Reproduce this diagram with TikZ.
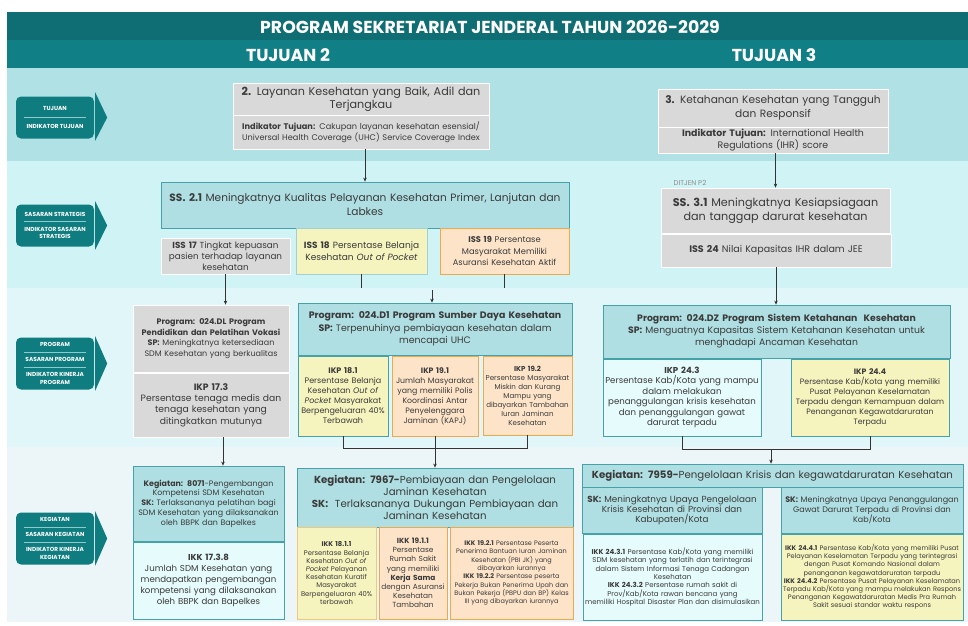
\documentclass[tikz,border=0pt]{standalone}
\usepackage{fontspec}
\setmainfont{Poppins}
\usetikzlibrary{arrows.meta}

\definecolor{bandA}{HTML}{0E6E73}
\definecolor{bandB}{HTML}{117F86}
\definecolor{rowA}{HTML}{B0E1E5}
\definecolor{rowB}{HTML}{D0F3F5}
\definecolor{rowC}{HTML}{E1F6F8}
\definecolor{rowD}{HTML}{ECF5F7}
\definecolor{sidecol}{HTML}{0F7C80}
\definecolor{sideln}{HTML}{8CCACD}
\definecolor{greyfill}{HTML}{D9D9D9}
\definecolor{tealfill}{HTML}{AFDFE2}
\definecolor{tealline}{HTML}{45A2A8}
\definecolor{yelfill}{HTML}{F6F4BE}
\definecolor{peachfill}{HTML}{FDE4C9}
\definecolor{orangeline}{HTML}{EBAA4E}
\definecolor{cyanfill}{HTML}{E6FBFC}
\definecolor{txt}{HTML}{3A3A3A}

\newcommand{\sepline}{\textcolor{sideln}{\rule[2pt]{62pt}{0.6pt}}}

\tikzset{
  box/.style={rectangle, draw, align=center, inner xsep=1pt, inner ysep=1pt, text=txt, line width=0.8pt},
  greybox/.style={box, fill=greyfill, draw=white},
  tealbox/.style={box, fill=tealfill, draw=tealline},
  yelbox/.style={box, fill=yelfill, draw=tealline},
  peachbox/.style={box, fill=peachfill, draw=orangeline},
  cyanbox/.style={box, fill=cyanfill, draw=tealline},
  sidelbl/.style={rectangle, rounded corners=5pt, fill=sidecol, text=white, align=center,
    font=\bfseries\fontsize{5.8}{7.5}\selectfont, minimum width=78pt, inner sep=1pt},
  arr/.style={-{Stealth[length=4pt,width=3.5pt]}, line width=0.6pt, draw=black!80},
  ln/.style={line width=0.6pt, draw=black!80},
}

\begin{document}
\begin{tikzpicture}[x=1pt,y=-1pt]
\useasboundingbox (0,0) rectangle (968,625);
\fill[bandA] (7,12) rectangle (968,40);
\fill[bandB] (7,40) rectangle (968,68);
\fill[rowA] (7,68) rectangle (968,161);
\fill[rowB] (7,161) rectangle (968,288);
\fill[rowC] (7,288) rectangle (968,447);
\fill[rowD] (7,447) rectangle (968,622);

\begin{scope}[every node/.style={text=white, font=\bfseries\fontsize{17.3}{20}\selectfont}]
    \node (title) at (490,27) {PROGRAM SEKRETARIAT JENDERAL TAHUN 2026-2029};
    \node (tujuan2) at (288,55) {TUJUAN 2};
    \node (tujuan3) at (774,55) {TUJUAN 3};
\end{scope}

\begin{scope}
    \node[sidelbl, minimum height=42pt] (side1) at (55,117.5) {TUJUAN\\[1.5pt]\sepline\\[1.5pt]INDIKATOR TUJUAN};
    \node[sidelbl, minimum height=42pt] (side2) at (55,225.5) {SASARAN STRATEGIS\\\sepline\\INDIKATOR SASARAN\\STRATEGIS};
    \node[sidelbl, minimum height=52pt] (side3) at (55,363.5) {PROGRAM\\\sepline\\SASARAN PROGRAM\\\sepline\\INDIKATOR KINERJA\\PROGRAM};
    \node[sidelbl, minimum height=52pt] (side4) at (55,538.5) {KEGIATAN\\\sepline\\SASARAN KEGIATAN\\\sepline\\INDIKATOR KINERJA\\KEGIATAN};
    \fill[sidecol] ([xshift=1pt,yshift=4pt]side1.north east) -- ([xshift=13pt]side1.east) -- ([xshift=1pt,yshift=-2pt]side1.south east) -- cycle;
    \fill[sidecol] ([xshift=1pt,yshift=3pt]side2.north east) -- ([xshift=13pt]side2.east) -- ([xshift=1pt,yshift=-3pt]side2.south east) -- cycle;
    \fill[sidecol] ([xshift=1pt,yshift=1pt]side3.north east) -- ([xshift=13pt]side3.east) -- ([xshift=1pt,yshift=-1pt]side3.south east) -- cycle;
    \fill[sidecol] ([xshift=1pt,yshift=1pt]side4.north east) -- ([xshift=13pt]side4.east) -- ([xshift=1pt,yshift=-1pt]side4.south east) -- cycle;
\end{scope}

\begin{scope}
    \node[greybox, text width=254pt, minimum height=32pt, font=\fontsize{11.2}{13.5}\selectfont] (t2) at (361,99) {\textbf{2.} Layanan Kesehatan yang Baik, Adil dan\\Terjangkau};
    \node[greybox, text width=254pt, minimum height=34pt, font=\fontsize{8.2}{9.8}\selectfont] (t2ind) at (361,132) {\textbf{Indikator Tujuan:} Cakupan layanan kesehatan esensial/\\Universal Health Coverage (UHC) Service Coverage Index};
    \node[greybox, text width=228pt, minimum height=38pt, font=\fontsize{10.6}{14}\selectfont] (t3) at (773,108) {\textbf{3.} Ketahanan Kesehatan yang Tangguh\\dan Responsif};
    \node[greybox, text width=228pt, minimum height=26pt, font=\fontsize{9.4}{11.5}\selectfont] (t3ind) at (773,140) {\textbf{Indikator Tujuan:} International Health\\Regulations (IHR) score};

    \node[tealbox, text width=406pt, minimum height=46pt, font=\fontsize{10.6}{14}\selectfont] (ss21) at (365,205) {\textbf{SS. 2.1} Meningkatnya Kualitas Pelayanan Kesehatan Primer, Lanjutan dan\\Labkes};
    \node[greybox, text width=127pt, minimum height=36pt, font=\fontsize{8.8}{10.8}\selectfont] (iss17) at (225.5,256) {\textbf{ISS 17} Tingkat kepuasan\\pasien terhadap layanan\\kesehatan};
    \node[yelbox, draw=tealline!50, text width=129pt, minimum height=46pt, font=\fontsize{9}{11.5}\selectfont] (iss18) at (361.5,251) {\textbf{ISS 18} Persentase Belanja\\Kesehatan \textit{Out of Pocket}};
    \node[peachbox, text width=127pt, minimum height=46pt, font=\fontsize{8.3}{11.5}\selectfont] (iss19) at (504.5,251) {\textbf{ISS 19} Persentase\\Masyarakat Memiliki\\Asuransi Kesehatan Aktif};
    \node[font=\fontsize{7}{8}\selectfont, text=black!45] (ditjen) at (690,183) {DITJEN P2};
    \node[greybox, text width=227pt, minimum height=45pt, font=\fontsize{11.2}{14.5}\selectfont] (ss31) at (775.5,210.5) {\textbf{SS. 3.1} Meningkatnya Kesiapsiagaan\\dan tanggap darurat kesehatan};
    \node[greybox, text width=228pt, minimum height=33pt, font=\fontsize{9.5}{11}\selectfont] (iss24) at (776,250.5) {\textbf{ISS 24} Nilai Kapasitas IHR dalam JEE};

    \node[greybox, text width=154pt, minimum height=67pt, font=\fontsize{8}{10.7}\selectfont] (progdl) at (211,338.5) {\textbf{Program: 024.DL Program}\\\textbf{Pendidikan dan Pelatihan Vokasi}\\\textbf{SP:} Meningkatnya ketersediaan\\SDM Kesehatan yang berkualitas};
    \node[greybox, text width=154pt, minimum height=64pt, font=\fontsize{9.2}{11.3}\selectfont] (ikp173) at (211,405) {\textbf{IKP 17.3}\\Persentase tenaga medis dan\\tenaga kesehatan yang\\ditingkatkan mutunya};
    \node[tealbox, text width=272pt, minimum height=52pt, font=\fontsize{9.4}{12.5}\selectfont] (progd1) at (435,329) {\textbf{Program: 024.D1 Program Sumber Daya Kesehatan}\\\textbf{SP:} Terpenuhinya pembiayaan kesehatan dalam\\mencapai UHC};
    \node[yelbox, text width=88pt, minimum height=80pt, font=\fontsize{8}{10}\selectfont] (ikp181) at (343,396) {\textbf{IKP 18.1}\\Persentase Belanja\\Kesehatan \textit{Out of}\\\textit{Pocket} Masyarakat\\Berpengeluaran 40\%\\Terbawah};
    \node[peachbox, text width=84pt, minimum height=80pt, font=\fontsize{7.8}{10}\selectfont] (ikp191) at (435,396) {\textbf{IKP 19.1}\\Jumlah Masyarakat\\yang memiliki Polis\\Koordinasi Antar\\Penyelenggara\\Jaminan (KAPJ)};
    \node[peachbox, text width=87pt, minimum height=79pt, font=\fontsize{7.1}{9}\selectfont] (ikp192) at (527.5,395.5) {\textbf{IKP 19.2}\\Persentase Masyarakat\\Miskin dan Kurang\\Mampu yang\\dibayarkan Tambahan\\Iuran Jaminan\\Kesehatan};
    \node[tealbox, text width=345pt, minimum height=53pt, font=\fontsize{9.3}{12}\selectfont] (progdz) at (776.5,331.5) {\textbf{Program: 024.DZ Program Sistem Ketahanan\ \ Kesehatan}\\\textbf{SP:} Menguatnya Kapasitas Sistem Ketahanan Kesehatan untuk\\menghadapi Ancaman Kesehatan};
    \node[cyanbox, text width=156pt, minimum height=77pt, font=\fontsize{8.6}{10.5}\selectfont] (ikp243) at (682,397.5) {\textbf{IKP 24.3}\\Persentase Kab/Kota yang mampu\\dalam melakukan\\penanggulangan krisis kesehatan\\dan penanggulangan gawat\\darurat terpadu};
    \node[yelbox, text width=156pt, minimum height=77pt, font=\fontsize{7.8}{10}\selectfont] (ikp244) at (870,397.5) {\textbf{IKP 24.4}\\Persentase Kab/Kota yang memiliki\\Pusat Pelayanan Keselamatan\\Terpadu dengan Kemampuan dalam\\Penanganan Kegawatdaruratan\\Terpadu};

    \node[tealbox, text width=149pt, minimum height=75pt, font=\fontsize{7.9}{9.7}\selectfont] (k8071) at (208.5,503.5) {\textbf{Kegiatan: 8071}-Pengembangan\\Kompetensi SDM Kesehatan\\\textbf{SK:} Terlaksananya pelatihan bagi\\SDM Kesehatan yang dilaksanakan\\oleh BBPK dan Bapelkes};
    \node[cyanbox, text width=149pt, minimum height=77pt, font=\fontsize{8.6}{11}\selectfont] (ikk1738) at (208.5,580.5) {\textbf{IKK 17.3.8}\\Jumlah SDM Kesehatan yang\\mendapatkan pengembangan\\kompetensi yang dilaksanakan\\oleh BBPK dan Bapelkes};
    \node[tealbox, text width=274pt, minimum height=59pt, font=\fontsize{10.2}{11.8}\selectfont] (k7967) at (435,497.5) {\textbf{Kegiatan: 7967-}Pembiayaan dan Pengelolaan\\Jaminan Kesehatan\\\textbf{SK:}\ \ Terlaksananya Dukungan Pembiayaan dan\\Jaminan Kesehatan};
    \node[yelbox, draw=orangeline!60!yelfill, text width=77pt, minimum height=92pt, font=\fontsize{6.8}{8.2}\selectfont] (ikk1811) at (336.5,573) {\textbf{IKK 18.1.1}\\Persentase Belanja\\Kesehatan \textit{Out of}\\\textit{Pocket} Pelayanan\\Kesehatan Kuratif\\Masyarakat\\Berpengeluaran 40\%\\terbawah};
    \node[peachbox, text width=66pt, minimum height=92pt, font=\fontsize{7.4}{9.2}\selectfont] (ikk1911) at (413,573) {\textbf{IKK 19.1.1}\\Persentase\\Rumah Sakit\\yang memiliki\\\textbf{Kerja Sama}\\dengan Asuransi\\Kesehatan\\Tambahan};
    \node[peachbox, text width=121pt, minimum height=92pt, font=\fontsize{6.5}{8.3}\selectfont] (ikk1921) at (511.5,573) {\textbf{IKK 19.2.1} Persentase Peserta\\Penerima Bantuan Iuran Jaminan\\Kesehatan (PBI JK) yang\\dibayarkan iurannya\\\textbf{IKK 19.2.2} Persentase peserta\\Pekerja Bukan Penerima Upah dan\\Bukan Pekerja (PBPU dan BP) Kelas\\III yang dibayarkan iurannya};
    \node[tealbox, text width=379pt, minimum height=23pt, font=\fontsize{10.2}{11}\selectfont] (k7959) at (772.5,475.5) {\textbf{Kegiatan: 7959-}Pengelolaan Krisis dan kegawatdaruratan Kesehatan};
    \node[tealbox, text width=178pt, minimum height=46pt, font=\fontsize{8.8}{10}\selectfont] (skkrisis) at (672,510) {\textbf{SK:} Meningkatnya Upaya Pengelolaan\\Krisis Kesehatan di Provinsi dan\\Kabupaten/Kota};
    \node[tealbox, text width=180pt, minimum height=46pt, font=\fontsize{8}{10}\selectfont] (skgawat) at (872,510) {\textbf{SK:} Meningkatnya Upaya Penanggulangan\\Gawat Darurat Terpadu di Provinsi dan\\Kab/Kota};
    \node[cyanbox, text width=177pt, minimum height=86pt, font=\fontsize{7}{8.3}\selectfont] (ikk243) at (672.5,577) {\textbf{IKK 24.3.1} Persentase Kab/Kota yang memiliki\\SDM kesehatan yang terlatih dan terintegrasi\\dalam Sistem Informasi Tenaga Cadangan\\Kesehatan\\\textbf{IKK 24.3.2} Persentase rumah sakit di\\Prov/Kab/Kota rawan bencana yang\\memiliki Hospital Disaster Plan dan disimulasikan};
    \node[yelbox, text width=180pt, minimum height=86pt, font=\fontsize{6.6}{8.2}\selectfont] (ikk244) at (872,577) {\textbf{IKK 24.4.1} Persentase Kab/Kota yang memiliki Pusat\\Pelayanan Keselamatan Terpadu yang terintegrasi\\dengan Pusat Komando Nasional dalam\\penanganan kegawatdaruratan terpadu\\\textbf{IKK 24.4.2} Persentase Pusat Pelayanan Keselamatan\\Terpadu Kab/Kota yang mampu melakukan Respons\\Penanganan Kegawatdaruratan Medis Pra Rumah\\Sakit sesuai standar waktu respons};
\end{scope}

\coordinate (end18) at (361.5,288);
\coordinate (end19) at (504.5,288);
\coordinate (d1in) at (432,290);
\coordinate (join1) at (435,448);
\coordinate (join2) at (771,449);

\begin{scope}
    \draw[arr] (t2ind.south -| ss21.north) -- (ss21.north);
    \draw[arr] (t3ind.south -| ss31.north) -- (ss31.north);
    \draw[arr] (iss17.south) -- (iss17.south |- progdl.north);
    \draw[ln] (iss18) -- (end18);
    \draw[ln] (iss19) -- (end19);
    \draw[arr] (d1in) -- (d1in |- progd1.north);
    \draw[arr] (iss24.south) -- (iss24.south |- progdz.north);
    \draw[arr] ([xshift=12pt]ikp173.south) -- ([xshift=12pt]ikp173.south |- k8071.north);
    \draw[ln] (ikp181.south) |- (join1) -| (ikp192.south);
    \draw[ln] (ikp191) -- (join1);
    \draw[arr] (join1) -- (join1 |- k7967.north);
    \draw[ln] (ikp243.south) |- (join2) -| (ikp244.south);
    \draw[arr] (join2) -- (join2 |- k7959.north);
\end{scope}
\end{tikzpicture}
\end{document}
